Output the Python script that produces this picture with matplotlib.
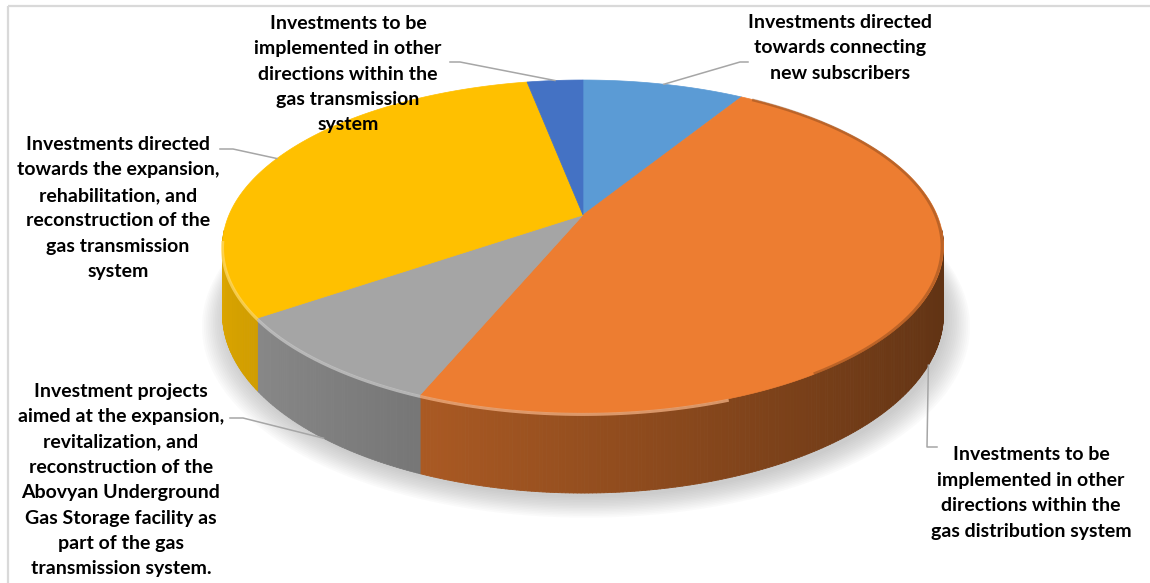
import numpy as np
import matplotlib.pyplot as plt
import matplotlib.colors as mcolors
from matplotlib.patches import Polygon
from matplotlib.collections import PolyCollection

# slice data (shares in %), clockwise from 12 o'clock
labels = [
    "Investments directed\ntowards connecting\nnew subscribers",
    "Investments to be\nimplemented in other\ndirections within the\ngas distribution system",
    "Investment projects\naimed at the expansion,\nrevitalization, and\nreconstruction of the\nAbovyan Underground\nGas Storage facility as\npart of the gas\ntransmission system.",
    "Investments directed\ntowards the expansion,\nrehabilitation, and\nreconstruction of the\ngas transmission\nsystem",
    "Investments to be\nimplemented in other\ndirections within the\ngas transmission\nsystem",
]
shares = [8.7, 47.5, 9.1, 31.7, 3.0]
colors = ["#5B9BD5", "#ED7D31", "#A5A5A5", "#FFC000", "#4472C4"]

# label placement (pixel coords): text centre, leader elbow, leader end
label_xy = [(840, 48), (1031, 493), (121, 480), (118, 208), (348, 74)]
elbows = [((740, 62), (748, 62)), ((927, 447), (937, 447)),
          ((243, 418), (230, 418)), ((233, 149), (220, 149)),
          ((460, 62), (450, 62))]

# perspective projection of the pie
CX, CY = 583, 215
RX, RY = 354, 160.5
K = 0.189
DEPTH = 65


def rim(theta, drop=0.0):
    s, c = np.sin(theta), np.cos(theta)
    w = 1 + K * c
    return CX + RX * s / w, CY - RY * c / w + drop / w


fig = plt.figure(figsize=(11.5, 5.83), dpi=100)
ax = fig.add_axes([0, 0, 1, 1])
ax.set_xlim(0, 1150)
ax.set_ylim(583, 0)
ax.axis("off")

# chart frame
ax.plot([7.5, 1150], [6, 6], color="#d9d9d9", lw=1.6, solid_capstyle="butt")
ax.plot([7.5, 7.5], [6, 583], color="#d9d9d9", lw=1.6, solid_capstyle="butt")

fracs = np.array(shares) / sum(shares)
edges = np.concatenate([[0], np.cumsum(fracs)]) * 2 * np.pi

# soft shadow under the pie
t = np.linspace(0, 2 * np.pi, 400)
bx, by = rim(t, DEPTH)
mx, my = bx.mean(), by.mean()
for i in range(14):
    e = 1 + 0.005 * i
    ax.fill(mx + (bx - mx) * e + 3, my + (by - my) * e + 4 + 0.6 * i,
            color="#7f7f7f", alpha=0.03, lw=0, zorder=1)

# side walls
polys, pcols = [], []
for a0, a1, col in zip(edges[:-1], edges[1:], colors):
    ts = np.linspace(a0, a1, max(3, int(np.degrees(a1 - a0) * 2)))
    base = np.array(mcolors.to_rgb(col))
    for ta, tb in zip(ts[:-1], ts[1:]):
        if np.cos((ta + tb) / 2) > -K + 0.1:
            continue
        x0, y0 = rim(ta)
        x1, y1 = rim(tb)
        x2, y2 = rim(tb, DEPTH)
        x3, y3 = rim(ta, DEPTH)
        polys.append([(x0, y0), (x1, y1), (x2, y2), (x3, y3)])
        f = 0.63 - 0.23 * np.sin((ta + tb) / 2)
        pcols.append(np.clip(base * f, 0, 1))
ax.add_collection(PolyCollection(polys, facecolors=pcols, edgecolors=pcols,
                                 linewidths=0.6, zorder=2))

# top faces
for a0, a1, col in zip(edges[:-1], edges[1:], colors):
    ts = np.linspace(a0, a1, 200)
    xs, ys = rim(ts)
    pts = [(CX, CY)] + list(zip(xs, ys))
    ax.add_patch(Polygon(pts, closed=True, facecolor=col, edgecolor=col,
                         lw=0.5, zorder=3))
    base = np.array(mcolors.to_rgb(col))
    # bevel highlight on the front-left rim, dark edge on the right
    lit = (np.cos(ts) < -K + 0.05) & (np.sin(ts) < 0.35)
    if lit.any():
        ax.plot(xs[lit], ys[lit] + 1.5, color=tuple(0.6 * base + 0.4),
                lw=2.2, alpha=0.75, zorder=4, solid_capstyle="butt")
    dark = np.sin(ts) > 0.55
    if dark.any():
        ax.plot(xs[dark] - 1.5, ys[dark], color=tuple(base * 0.55),
                lw=2.0, alpha=0.45, zorder=4, solid_capstyle="butt")

# labels with leader lines
for lab, (tx, ty), (el, end), a0, a1 in zip(labels, label_xy, elbows,
                                            edges[:-1], edges[1:]):
    mid = (a0 + a1) / 2
    drop = DEPTH if np.cos(mid) < -K else 0.0
    axx, ayy = rim(mid, drop)
    ax.plot([axx, el[0], end[0]], [ayy, el[1], end[1]], color="#a6a6a6",
            lw=1.1, zorder=5)
    ax.text(tx, ty, lab, ha="center", va="center", fontsize=14,
            fontweight="bold", family="Lato", linespacing=1.6,
            color="#000000", zorder=6)

fig.savefig("out.png", dpi=100)
